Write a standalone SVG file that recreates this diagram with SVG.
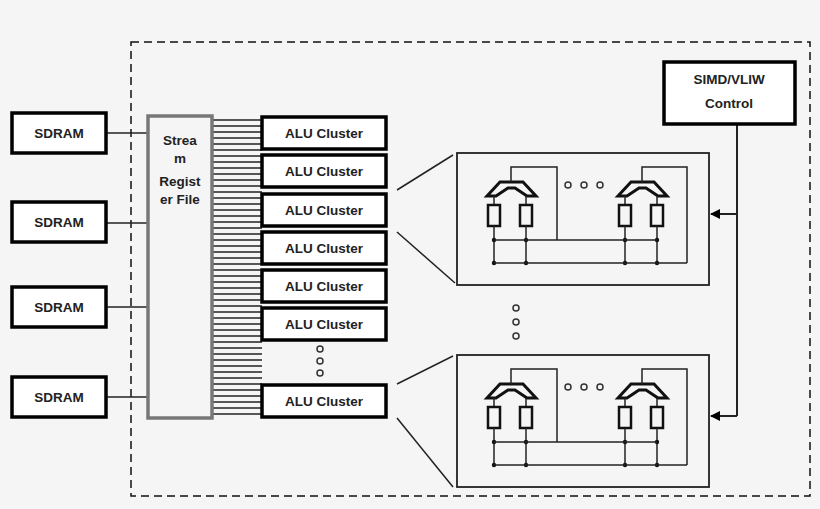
<svg xmlns="http://www.w3.org/2000/svg" width="820" height="509" viewBox="0 0 820 509">
<defs>
<style>
.b{fill:#fff;stroke:#000;stroke-width:3.5}
.t{font-family:"Liberation Sans",Arial,sans-serif;font-weight:bold;font-size:13.5px;text-anchor:middle;fill:#222}
.l{stroke:#222;stroke-width:1.5;fill:none}
.w{stroke:#222;stroke-width:2;fill:none}
.d{fill:none;stroke:#333;stroke-width:1.5}
.j{fill:#111}
</style>
<marker id="ar" markerWidth="10" markerHeight="10" refX="9" refY="5" orient="auto" markerUnits="userSpaceOnUse"><path d="M0,0 L10,5 L0,10 z" fill="#000"/></marker>
<g id="unit">
<path d="M487,196 L500,182 L523,182 L536,196 L527,196 L515,188 L508,188 L496,196 Z" fill="none" stroke="#111" stroke-width="3"/>
<line class="l" x1="494" y1="196" x2="494" y2="205"/><line class="l" x1="526" y1="196" x2="526" y2="205"/>
<rect x="488" y="205" width="12" height="21" fill="none" stroke="#111" stroke-width="2.5"/>
<rect x="520" y="205" width="12" height="21" fill="none" stroke="#111" stroke-width="2.5"/>
<line class="l" x1="494" y1="226" x2="494" y2="264"/><line class="l" x1="526" y1="226" x2="526" y2="264"/>
<circle class="j" cx="494" cy="240" r="2.2"/><circle class="j" cx="526" cy="240" r="2.2"/>
<circle class="j" cx="494" cy="263" r="2.2"/><circle class="j" cx="526" cy="263" r="2.2"/>
</g>
<g id="cluster">
<rect x="457" y="153" width="252" height="132" fill="none" stroke="#222" stroke-width="1.8"/>
<use href="#unit"/>
<use href="#unit" x="131"/>
<polyline class="l" points="511,182 511,167 557,167 557,240"/>
<polyline class="l" points="642,182 642,167 687,167 687,263"/>
<line class="l" x1="494" y1="240" x2="657" y2="240"/>
<line class="l" x1="494" y1="263" x2="687" y2="263"/>
<circle class="d" cx="568" cy="185" r="3"/><circle class="d" cx="584" cy="185" r="3"/><circle class="d" cx="600" cy="185" r="3"/>
</g>
</defs>
<rect width="820" height="509" fill="#f5f5f5"/>
<rect x="131" y="42" width="679" height="454" fill="none" stroke="#111" stroke-width="1.5" stroke-dasharray="8,5"/>
<g id="connectors">
<line class="l" x1="106" y1="133" x2="148" y2="133"/>
<line class="l" x1="106" y1="223" x2="148" y2="223"/>
<line class="l" x1="106" y1="307" x2="148" y2="307"/>
<line class="l" x1="106" y1="397" x2="148" y2="397"/>
<path class="l" stroke-width="1.2" d="M212,120H262M212,126H262M212,132H262M212,138H262M212,144H262M212,150H262M212,156H262M212,162H262M212,168H262M212,174H262M212,180H262M212,186H262M212,192H262M212,198H262M212,204H262M212,210H262M212,216H262M212,222H262M212,228H262M212,234H262M212,240H262M212,246H262M212,252H262M212,258H262M212,264H262M212,270H262M212,276H262M212,282H262M212,288H262M212,294H262M212,300H262M212,306H262M212,312H262M212,318H262M212,324H262M212,330H262M212,336H262M212,342H262M212,348H262M212,354H262M212,360H262M212,366H262M212,372H262M212,378H262M212,384H262M212,390H262M212,396H262M212,402H262M212,408H262M212,414H262"/>
<line class="l" x1="397" y1="190" x2="453" y2="155"/>
<line class="l" x1="397" y1="232" x2="455" y2="283"/>
<line class="l" x1="397" y1="384" x2="453" y2="356"/>
<line class="l" x1="397" y1="418" x2="453" y2="487"/>
<polyline class="w" points="737,124 737,416"/>
<line class="w" x1="737" y1="214" x2="711" y2="214" marker-end="url(#ar)"/>
<line class="w" x1="737" y1="416" x2="711" y2="416" marker-end="url(#ar)"/>
</g>
<g id="sdram1"><rect class="b" x="12" y="113" width="94" height="40"/><text class="t" x="59" y="138">SDRAM</text></g>
<g id="sdram2"><rect class="b" x="12" y="202" width="94" height="40"/><text class="t" x="59" y="227">SDRAM</text></g>
<g id="sdram3"><rect class="b" x="12" y="287" width="94" height="40"/><text class="t" x="59" y="312">SDRAM</text></g>
<g id="sdram4"><rect class="b" x="12" y="377" width="94" height="40"/><text class="t" x="59" y="402">SDRAM</text></g>
<g id="srf"><rect x="148" y="116" width="64" height="302" fill="#f5f5f5" stroke="#777" stroke-width="3.5"/>
<text class="t" x="180" y="145">Strea</text><text class="t" x="180" y="163">m</text><text class="t" x="180" y="186">Regist</text><text class="t" x="180" y="204">er File</text></g>
<g id="alu1"><rect class="b" x="262" y="117" width="124" height="32"/><text class="t" x="324" y="138">ALU Cluster</text></g>
<g id="alu2"><rect class="b" x="262" y="155" width="124" height="32"/><text class="t" x="324" y="176">ALU Cluster</text></g>
<g id="alu3"><rect class="b" x="262" y="194" width="124" height="32"/><text class="t" x="324" y="215">ALU Cluster</text></g>
<g id="alu4"><rect class="b" x="262" y="232" width="124" height="32"/><text class="t" x="324" y="253">ALU Cluster</text></g>
<g id="alu5"><rect class="b" x="262" y="270" width="124" height="32"/><text class="t" x="324" y="291">ALU Cluster</text></g>
<g id="alu6"><rect class="b" x="262" y="308" width="124" height="32"/><text class="t" x="324" y="329">ALU Cluster</text></g>
<g id="alu7"><rect class="b" x="262" y="385" width="124" height="32"/><text class="t" x="324" y="406">ALU Cluster</text></g>
<g id="dots1"><circle class="d" cx="320" cy="349" r="3"/><circle class="d" cx="320" cy="361" r="3"/><circle class="d" cx="320" cy="373" r="3"/></g>
<g id="dots2"><circle class="d" cx="516" cy="308" r="3"/><circle class="d" cx="516" cy="322" r="3"/><circle class="d" cx="516" cy="336" r="3"/></g>
<g id="detail1"><use href="#cluster"/></g>
<g id="detail2"><use href="#cluster" y="202"/></g>
<g id="control"><rect class="b" x="664" y="62" width="131" height="62"/><text class="t" x="729" y="84">SIMD/VLIW</text><text class="t" x="729" y="108">Control</text></g>
</svg>
